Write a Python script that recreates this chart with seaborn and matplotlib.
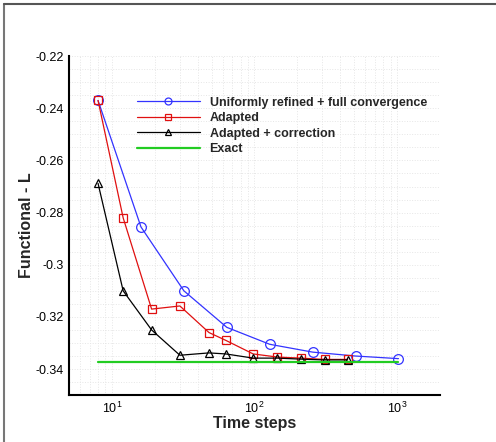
import numpy as np
import pandas as pd
import matplotlib
matplotlib.use("Agg")
import matplotlib.pyplot as plt
import seaborn as sns
from matplotlib.ticker import LogLocator, MultipleLocator, FormatStrFormatter
from matplotlib.lines import Line2D

# values
uniform_steps = [8, 16, 32, 64, 128, 256, 512, 1024]
uniform_L = [-0.237, -0.2855, -0.310, -0.324, -0.3305, -0.3335, -0.335, -0.336]

adapted_steps = [8, 12, 19, 30, 48, 63, 98, 145, 213, 310, 450]
adapted_L = [-0.237, -0.282, -0.317, -0.3158, -0.326, -0.329, -0.3342, -0.3354, -0.3358, -0.3363, -0.3363]

corr_steps = [8, 12, 19, 30, 48, 63, 98, 145, 213, 310, 450]
corr_L = [-0.2688, -0.310, -0.325, -0.3347, -0.3338, -0.3342, -0.3358, -0.3358, -0.3362, -0.3365, -0.3365]

exact_steps = [8, 1024]
exact_L = [-0.3373, -0.3373]

labels = ["Uniformly refined + full convergence", "Adapted",
          "Adapted + correction", "Exact"]

sns.set_style("white")
plt.rcParams['font.family'] = ['Liberation Sans', 'DejaVu Sans']

fig = plt.figure(figsize=(4.96, 4.42), dpi=100)
ax = fig.add_axes([0.139, 0.106, 0.748, 0.767])

sns.lineplot(x=uniform_steps, y=uniform_L, ax=ax, color="#3333ff", lw=0.9,
             marker="o", markersize=7, markerfacecolor="none",
             markeredgecolor="#3333ff", markeredgewidth=0.9, label=labels[0])
sns.lineplot(x=adapted_steps, y=adapted_L, ax=ax, color="#e01010", lw=0.9,
             marker="s", markersize=5.5, markerfacecolor="none",
             markeredgecolor="#e01010", markeredgewidth=0.9, label=labels[1])
sns.lineplot(x=corr_steps, y=corr_L, ax=ax, color="black", lw=0.9,
             marker="^", markersize=6, markerfacecolor="none",
             markeredgecolor="black", markeredgewidth=0.9, label=labels[2])
sns.lineplot(x=exact_steps, y=exact_L, ax=ax, color="#22cc22", lw=1.6,
             label=labels[3])

ax.set_xscale("log")
ax.set_xlim(5, 2000)
ax.set_ylim(-0.35, -0.22)

ax.yaxis.set_major_locator(MultipleLocator(0.02))
ax.yaxis.set_minor_locator(MultipleLocator(0.005))
ax.yaxis.set_major_formatter(FormatStrFormatter('%g'))
ax.xaxis.set_major_locator(LogLocator(base=10))
ax.xaxis.set_minor_locator(LogLocator(base=10, subs=np.arange(2, 10)))

ax.tick_params(which="both", direction="in", labelsize=9, colors="black")
ax.tick_params(which="major", length=6, width=1)
ax.tick_params(which="minor", length=3, width=0.8)
ax.tick_params(axis="x", pad=4)

ax.grid(True, which="both", color="#e6e6e6", linestyle=":", lw=0.7)
ax.set_axisbelow(True)

for s in ["top", "right"]:
    ax.spines[s].set_visible(False)
for s in ["left", "bottom"]:
    ax.spines[s].set_color("black")
    ax.spines[s].set_linewidth(1.5)

ax.set_xlabel("Time steps", fontsize=11.5, fontweight="bold", labelpad=0)
ax.set_ylabel("Functional - L", fontsize=11.5, fontweight="bold", labelpad=1)

leg = ax.legend(loc="upper left", bbox_to_anchor=(0.17, 0.895), frameon=False,
                prop={"weight": "bold", "size": 9}, handlelength=5.0,
                handletextpad=0.8, labelspacing=0.28, borderaxespad=0)
for h in leg.legend_handles:
    h.set_markersize(5)

# partial frame around the figure
fig.add_artist(Line2D([4/496, 4/496], [0, 1 - 4/442], transform=fig.transFigure,
                      color="#777777", lw=1.5))
fig.add_artist(Line2D([4/496, 1], [1 - 4/442, 1 - 4/442], transform=fig.transFigure,
                      color="#555555", lw=1.5))

fig.savefig("out.png", dpi=100)
